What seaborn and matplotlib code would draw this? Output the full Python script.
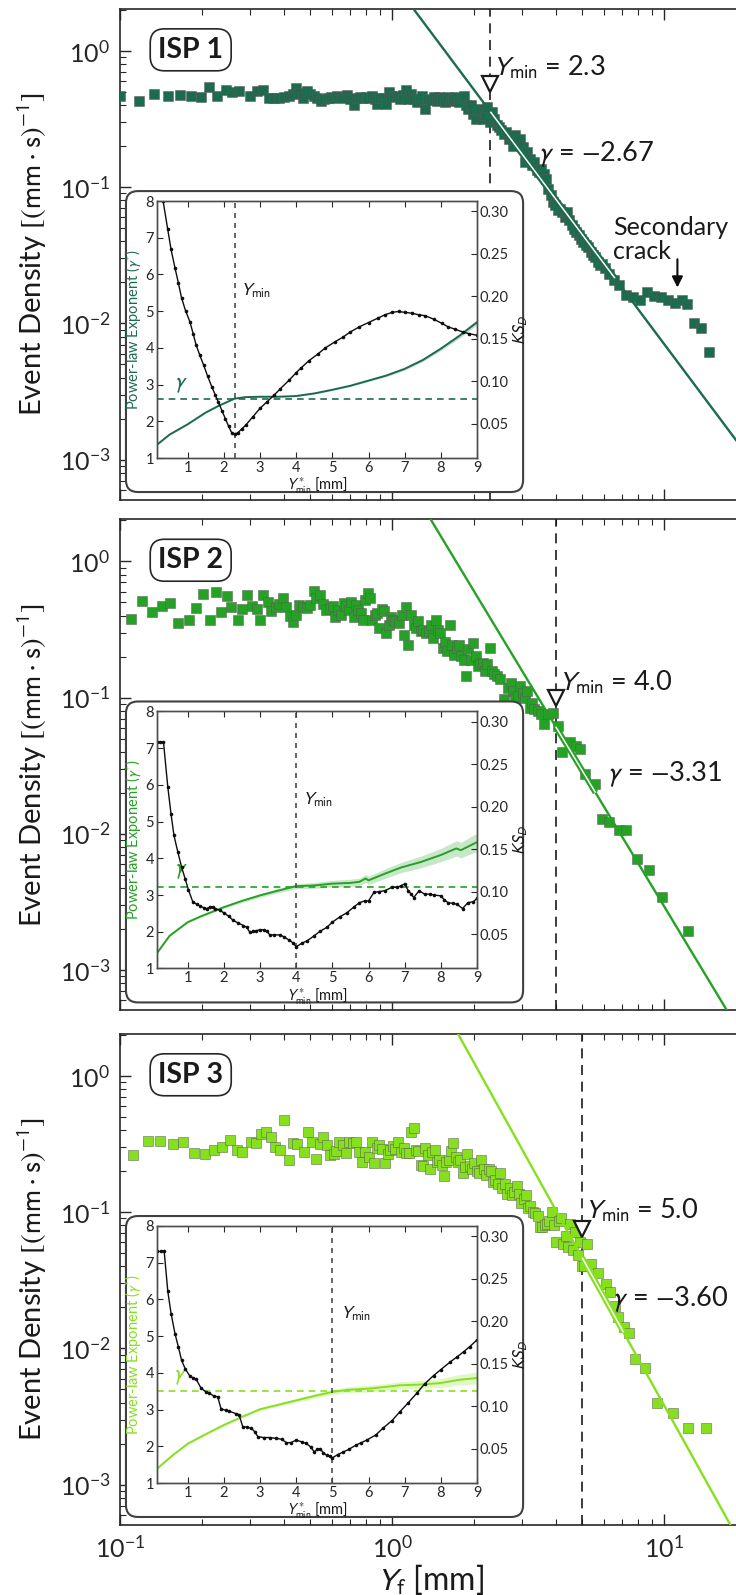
import numpy as np
import pandas as pd
import matplotlib
matplotlib.use("Agg")
import matplotlib.pyplot as plt
import seaborn as sns
from matplotlib.patches import FancyBboxPatch
from matplotlib.ticker import FixedLocator, FormatStrFormatter, NullFormatter

# ---------------- data ----------------
p1_x = [0.100, 0.117, 0.133, 0.150, 0.166, 0.182, 0.198, 0.212, 0.228, 0.245, 0.259, 0.275, 0.301, 0.319,
        0.336, 0.353, 0.367, 0.385, 0.401, 0.419, 0.431, 0.444, 0.457, 0.472, 0.485, 0.499, 0.515, 0.529,
        0.547, 0.562, 0.58, 0.596, 0.613, 0.63, 0.648, 0.667, 0.685, 0.702, 0.722, 0.742, 0.760, 0.782,
        0.8, 0.819, 0.843, 0.863, 0.884, 0.905, 0.927, 0.949, 0.972, 0.995, 1.02, 1.044, 1.069, 1.095,
        1.122, 1.148, 1.177, 1.205, 1.234, 1.264, 1.294, 1.326, 1.357, 1.39, 1.424, 1.458, 1.493, 1.529,
        1.566, 1.604, 1.643, 1.682, 1.723, 1.765, 1.807, 1.836, 1.873, 1.91, 1.948, 1.988, 2.028, 2.069,
        2.11, 2.152, 2.196, 2.24, 2.285, 2.331, 2.378, 2.426, 2.475, 2.524, 2.576, 2.629, 2.681, 2.733,
        2.788, 2.844, 2.901, 2.96, 3.019, 3.08, 3.142, 3.205, 3.27, 3.335, 3.40, 3.467, 3.537, 3.608,
        3.681, 3.755, 3.83, 3.907, 3.985, 4.064, 4.146, 4.23, 4.315, 4.401, 4.49, 4.58, 4.673, 4.766,
        4.862, 4.96, 5.058, 5.16, 5.263, 5.37, 5.477, 5.587, 5.70, 5.814, 5.93, 6.049, 6.295, 6.55,
        6.815, 7.233, 7.677, 8.148, 8.65, 9.18, 9.74, 10.34, 10.98, 11.65, 12.13, 12.88, 13.67, 14.62]
p1_y = [0.471, 0.432, 0.484, 0.471, 0.476, 0.471, 0.463, 0.542, 0.471, 0.521, 0.498, 0.507, 0.471, 0.512,
        0.521, 0.45, 0.45, 0.453, 0.458, 0.471, 0.484, 0.532, 0.49, 0.453, 0.512, 0.484, 0.466, 0.45,
        0.432, 0.445, 0.453, 0.463, 0.45, 0.471, 0.458, 0.453, 0.476, 0.445, 0.402, 0.45, 0.463, 0.45,
        0.458, 0.45, 0.466, 0.445, 0.409, 0.45, 0.45, 0.409, 0.498, 0.466, 0.458, 0.471, 0.445, 0.476,
        0.521, 0.445, 0.484, 0.445, 0.421, 0.445, 0.466, 0.372, 0.445, 0.44, 0.458, 0.432, 0.458, 0.445,
        0.425, 0.458, 0.432, 0.445, 0.458, 0.425, 0.453, 0.471, 0.398, 0.376, 0.398, 0.345, 0.318, 0.366,
        0.376, 0.318, 0.336, 0.387, 0.30, 0.356, 0.318, 0.284, 0.276, 0.261, 0.247, 0.254, 0.227, 0.233,
        0.202, 0.24, 0.22, 0.227, 0.197, 0.153, 0.181, 0.162, 0.1445, 0.153, 0.1328, 0.129, 0.1367, 0.1256,
        0.1154, 0.0975, 0.0871, 0.0778, 0.0736, 0.0676, 0.0695, 0.0658, 0.0604, 0.0658, 0.0571, 0.0525, 0.0497, 0.047,
        0.0444, 0.042, 0.0397, 0.0375, 0.0365, 0.0335, 0.0317, 0.0308, 0.0283, 0.0267, 0.0275, 0.0253, 0.0232, 0.0208,
        0.0191, 0.0161, 0.0157, 0.0148, 0.0171, 0.0159, 0.0157, 0.0148, 0.014, 0.0148, 0.0138, 0.0100, 0.0092, 0.0062]

p2_x = [0.110, 0.121, 0.131, 0.143, 0.153, 0.164, 0.180, 0.191, 0.202, 0.215, 0.225, 0.235, 0.247, 0.257,
        0.271, 0.281, 0.293, 0.307, 0.319, 0.326, 0.336, 0.349, 0.360, 0.375, 0.385, 0.397, 0.409, 0.422,
        0.431, 0.445, 0.457, 0.472, 0.485, 0.499, 0.515, 0.525, 0.542, 0.557, 0.573, 0.591, 0.608, 0.618,
        0.633, 0.648, 0.667, 0.680, 0.693, 0.707, 0.722, 0.736, 0.751, 0.766, 0.782, 0.797, 0.816, 0.829,
        0.847, 0.864, 0.881, 0.898, 0.916, 0.935, 0.953, 0.972, 0.991, 1.011, 1.03, 1.06, 1.087, 1.11,
        1.13, 1.148, 1.177, 1.20, 1.224, 1.249, 1.274, 1.30, 1.336, 1.363, 1.39, 1.419, 1.447, 1.476,
        1.506, 1.536, 1.566, 1.598, 1.63, 1.663, 1.696, 1.73, 1.765, 1.80, 1.836, 1.873, 1.91, 1.948,
        1.988, 2.028, 2.069, 2.11, 2.152, 2.196, 2.24, 2.285, 2.331, 2.378, 2.426, 2.505, 2.576, 2.659,
        2.733, 2.788, 2.844, 2.901, 2.96, 3.019, 3.08, 3.142, 3.205, 3.27, 3.335, 3.44, 3.54, 3.61,
        3.76, 3.91, 4.07, 4.23, 4.53, 4.73, 4.92, 5.12, 5.59, 5.93, 6.30, 6.82, 7.24, 7.93,
        8.77, 9.87, 12.2]
p2_y = [0.38, 0.515, 0.424, 0.474, 0.496, 0.35, 0.374, 0.456, 0.58, 0.37, 0.593, 0.424, 0.555, 0.46,
        0.37, 0.448, 0.564, 0.469, 0.448, 0.37, 0.57, 0.501, 0.431, 0.46, 0.488, 0.539, 0.463, 0.40,
        0.36, 0.407, 0.482, 0.463, 0.456, 0.476, 0.61, 0.539, 0.57, 0.49, 0.443, 0.448, 0.469, 0.392,
        0.443, 0.403, 0.496, 0.469, 0.443, 0.501, 0.392, 0.482, 0.438, 0.419, 0.37, 0.524, 0.586, 0.539,
        0.374, 0.407, 0.419, 0.325, 0.448, 0.431, 0.299, 0.344, 0.392, 0.374, 0.364, 0.354, 0.407, 0.29,
        0.463, 0.245, 0.407, 0.344, 0.325, 0.364, 0.308, 0.316, 0.296, 0.308, 0.344, 0.275, 0.374, 0.316,
        0.296, 0.232, 0.255, 0.22, 0.344, 0.245, 0.207, 0.232, 0.245, 0.202, 0.189, 0.144, 0.226, 0.189,
        0.25, 0.202, 0.17, 0.175, 0.178, 0.157, 0.175, 0.232, 0.157, 0.148, 0.144, 0.136, 0.097, 0.118,
        0.129, 0.112, 0.10, 0.103, 0.122, 0.108, 0.10, 0.112, 0.0845, 0.092, 0.082, 0.080, 0.0755, 0.0638,
        0.0755, 0.0777, 0.062, 0.0396, 0.0469, 0.0443, 0.0419, 0.0275, 0.0232, 0.0129, 0.0122, 0.0106, 0.0106, 0.00656,
        0.0054, 0.00344, 0.00194]

p3_x = [0.112, 0.127, 0.140, 0.156, 0.171, 0.187, 0.206, 0.221, 0.237, 0.254, 0.269, 0.282, 0.302, 0.315,
        0.331, 0.344, 0.358, 0.373, 0.388, 0.400, 0.417, 0.434, 0.449, 0.473, 0.492, 0.508, 0.524, 0.543,
        0.558, 0.576, 0.592, 0.612, 0.624, 0.641, 0.662, 0.676, 0.697, 0.717, 0.737, 0.755, 0.776, 0.798,
        0.824, 0.843, 0.857, 0.878, 0.899, 0.921, 0.946, 0.966, 0.985, 1.005, 1.024, 1.052, 1.079, 1.104,
        1.13, 1.158, 1.177, 1.2, 1.224, 1.248, 1.274, 1.30, 1.325, 1.352, 1.378, 1.405, 1.435, 1.462,
        1.493, 1.521, 1.552, 1.585, 1.614, 1.648, 1.679, 1.714, 1.75, 1.782, 1.82, 1.858, 1.892, 1.932,
        1.968, 2.01, 2.05, 2.09, 2.133, 2.173, 2.218, 2.265, 2.307, 2.355, 2.399, 2.449, 2.5, 2.547,
        2.6, 2.649, 2.704, 2.761, 2.812, 2.871, 2.924, 2.985, 3.048, 3.105, 3.17, 3.228, 3.296, 3.365,
        3.428, 3.5, 3.565, 3.639, 3.715, 3.784, 3.864, 3.945, 4.018, 4.102, 4.178, 4.266, 4.355, 4.436,
        4.529, 4.613, 4.71, 4.808, 4.898, 5.0, 5.093, 5.2, 5.408, 5.741, 6.095, 6.339, 6.592, 6.776,
        7.145, 7.43, 7.816, 8.531, 9.42, 10.81, 12.28, 14.29]
p3_y = [0.261, 0.334, 0.334, 0.316, 0.33, 0.273, 0.268, 0.287, 0.30, 0.336, 0.287, 0.277, 0.33, 0.324,
        0.374, 0.386, 0.355, 0.30, 0.285, 0.471, 0.241, 0.324, 0.316, 0.278, 0.386, 0.33, 0.245, 0.314,
        0.355, 0.31, 0.261, 0.265, 0.282, 0.33, 0.31, 0.273, 0.33, 0.324, 0.33, 0.277, 0.233, 0.277,
        0.253, 0.33, 0.231, 0.296, 0.31, 0.291, 0.231, 0.268, 0.287, 0.304, 0.291, 0.33, 0.277, 0.296,
        0.273, 0.273, 0.386, 0.416, 0.285, 0.282, 0.222, 0.219, 0.294, 0.261, 0.209, 0.277, 0.285, 0.233,
        0.241, 0.222, 0.184, 0.233, 0.241, 0.282, 0.324, 0.252, 0.233, 0.241, 0.194, 0.213, 0.265, 0.219,
        0.206, 0.231, 0.20, 0.194, 0.241, 0.206, 0.1875, 0.206, 0.20, 0.1655, 0.171, 0.160, 0.194, 0.1507,
        0.160, 0.137, 0.1507, 0.1328, 0.1415, 0.155, 0.137, 0.117, 0.1247, 0.1328, 0.1067, 0.110, 0.1002, 0.0984,
        0.0942, 0.078, 0.078, 0.0805, 0.0815, 0.0857, 0.1002, 0.0805, 0.0607, 0.0857, 0.0912, 0.058, 0.0667, 0.0552,
        0.0815, 0.0525, 0.071, 0.0487, 0.0607, 0.0404, 0.0404, 0.058, 0.0417, 0.0356, 0.0299, 0.026, 0.0203, 0.017,
        0.01435, 0.01306, 0.00832, 0.0072, 0.00397, 0.00333, 0.00259, 0.00259]

# power-law fits (amplitude, exponent) and Y_min
fit_A = [3.31, 6.01, 15.22]
fit_gamma = [-2.67, -3.31, -3.60]
y_min = [2.3, 4.0, 5.0]
panel_labels = ["ISP 1", "ISP 2", "ISP 3"]

# inset: power-law exponent vs Y*_min
g1_x = [0.16, 0.5, 1.0, 1.5, 1.85, 2.3, 2.6, 3.0, 3.5, 4.0, 4.5, 5.0, 5.5, 6.0, 6.5, 7.0, 7.5, 8.0, 8.5, 9.0]
g1_y = [1.37, 1.64, 1.92, 2.24, 2.42, 2.62, 2.66, 2.67, 2.67, 2.69, 2.76, 2.86, 2.97, 3.11, 3.25, 3.43, 3.67, 3.98, 4.32, 4.70]
g1_e = [0.01, 0.01, 0.01, 0.01, 0.01, 0.01, 0.01, 0.01, 0.01, 0.015, 0.015, 0.02, 0.02, 0.025, 0.03, 0.035, 0.04, 0.05, 0.06, 0.07]
g2_x = [0.16, 0.5, 1.0, 1.34, 2.0, 2.5, 3.0, 3.5, 4.0, 4.5, 5.0, 5.5, 5.75, 5.92, 6.0, 6.45, 6.9, 7.45, 8.0, 8.43, 8.55, 9.0]
g2_y = [1.43, 1.89, 2.26, 2.41, 2.67, 2.84, 2.99, 3.12, 3.24, 3.26, 3.31, 3.33, 3.36, 3.45, 3.40, 3.58, 3.75, 3.90, 4.09, 4.27, 4.22, 4.44]
g2_e = [0.01, 0.01, 0.02, 0.02, 0.03, 0.04, 0.05, 0.06, 0.07, 0.08, 0.09, 0.10, 0.10, 0.11, 0.11, 0.13, 0.14, 0.16, 0.18, 0.21, 0.21, 0.25]
g3_x = [0.14, 0.58, 1.0, 1.5, 2.0, 2.5, 3.0, 3.5, 4.0, 4.5, 5.0, 5.45, 6.0, 6.5, 6.85, 7.4, 7.97, 8.5, 9.0]
g3_y = [1.38, 1.75, 2.07, 2.33, 2.58, 2.80, 3.01, 3.13, 3.25, 3.37, 3.48, 3.54, 3.57, 3.62, 3.66, 3.68, 3.72, 3.81, 3.86]
g3_e = [0.01, 0.01, 0.015, 0.02, 0.025, 0.03, 0.035, 0.04, 0.05, 0.06, 0.07, 0.08, 0.09, 0.09, 0.10, 0.11, 0.12, 0.14, 0.16]
gamma_ref = [2.6, 3.22, 3.51]

# inset: KS distance vs Y*_min
k1_x = [0.16, 0.25, 0.32, 0.444, 0.54, 0.65, 0.74, 0.83, 0.94, 1.06, 1.15, 1.23, 1.33, 1.44, 1.55, 1.67, 1.76, 1.85,
        1.95, 2.04, 2.13, 2.22, 2.3, 2.38, 2.5, 2.6, 2.8, 3.0, 3.2, 3.4, 3.56, 3.8, 4.0, 4.12, 4.35, 4.6, 4.8,
        5.06, 5.3, 5.5, 5.75, 6.0, 6.25, 6.45, 6.65, 6.83, 7.0, 7.2, 7.4, 7.57, 7.8, 8.03, 8.2, 8.4, 8.6, 8.77, 9.0]
k1_y = [0.40, 0.35, 0.312, 0.2796, 0.255, 0.233, 0.216, 0.198, 0.183, 0.170, 0.156, 0.143, 0.131, 0.119, 0.106,
        0.093, 0.084, 0.075, 0.065, 0.056, 0.047, 0.039, 0.038, 0.039, 0.044, 0.048, 0.058, 0.068, 0.076, 0.084,
        0.091, 0.101, 0.110, 0.115, 0.124, 0.132, 0.139, 0.146, 0.152, 0.158, 0.164, 0.169, 0.174, 0.178, 0.181,
        0.182, 0.181, 0.180, 0.178, 0.177, 0.173, 0.168, 0.164, 0.161, 0.158, 0.156, 0.154]
k2_x = [0.16, 0.24, 0.33, 0.45, 0.54, 0.62, 0.73, 0.83, 0.93, 1.02, 1.14, 1.25, 1.35, 1.44, 1.53, 1.62, 1.7, 1.76,
        1.88, 2.0, 2.13, 2.26, 2.4, 2.54, 2.63, 2.72, 2.8, 2.9, 3.0, 3.1, 3.2, 3.27, 3.4, 3.55, 3.65, 3.8, 3.9,
        4.0, 4.15, 4.3, 4.5, 4.65, 4.85, 5.0, 5.2, 5.4, 5.6, 5.75, 5.9, 6.0, 6.15, 6.3, 6.45, 6.65, 6.8, 6.9,
        7.0, 7.1, 7.18, 7.25, 7.4, 7.55, 7.7, 7.8, 8.0, 8.1, 8.2, 8.35, 8.45, 8.6, 8.75, 8.9, 9.0]
k2_y = [0.276, 0.276, 0.276, 0.223, 0.191, 0.166, 0.146, 0.129, 0.115, 0.102, 0.088, 0.085, 0.083, 0.081, 0.080,
        0.082, 0.082, 0.080, 0.078, 0.075, 0.071, 0.066, 0.063, 0.060, 0.058, 0.052, 0.053, 0.054, 0.055, 0.055,
        0.053, 0.049, 0.049, 0.049, 0.047, 0.043, 0.040, 0.035, 0.039, 0.042, 0.048, 0.053, 0.058, 0.064, 0.070,
        0.075, 0.082, 0.087, 0.089, 0.089, 0.099, 0.100, 0.101, 0.105, 0.105, 0.107, 0.109, 0.101, 0.097, 0.093,
        0.101, 0.097, 0.097, 0.096, 0.095, 0.090, 0.087, 0.086, 0.085, 0.080, 0.087, 0.088, 0.092]
k3_x = [0.14, 0.25, 0.35, 0.45, 0.54, 0.65, 0.74, 0.83, 0.93, 1.05, 1.15, 1.23, 1.37, 1.5, 1.6, 1.72, 1.83, 1.92,
        2.05, 2.15, 2.34, 2.42, 2.52, 2.65, 2.76, 2.85, 2.94, 3.1, 3.27, 3.45, 3.6, 3.73, 3.85, 4.0, 4.15, 4.28,
        4.4, 4.5, 4.58, 4.66, 4.75, 4.85, 4.93, 5.0, 5.15, 5.3, 5.45, 5.65, 5.8, 5.95, 6.2, 6.4, 6.65, 6.86,
        7.1, 7.33, 7.55, 7.8, 8.0, 8.26, 8.45, 8.63, 8.8, 9.0]
k3_y = [0.282, 0.282, 0.282, 0.235, 0.209, 0.185, 0.170, 0.154, 0.144, 0.136, 0.133, 0.132, 0.121, 0.117, 0.115,
        0.112, 0.111, 0.097, 0.095, 0.094, 0.091, 0.090, 0.076, 0.075, 0.074, 0.070, 0.064, 0.063, 0.063, 0.062,
        0.061, 0.057, 0.057, 0.060, 0.058, 0.056, 0.052, 0.046, 0.049, 0.050, 0.045, 0.042, 0.041, 0.039, 0.043,
        0.046, 0.049, 0.054, 0.057, 0.060, 0.066, 0.074, 0.083, 0.093, 0.104, 0.115, 0.126, 0.136, 0.143, 0.152,
        0.158, 0.164, 0.170, 0.178]

# ---------------- style ----------------
sns.set_style("ticks")
plt.rcParams.update({
    "font.family": ["Lato", "DejaVu Sans"],
    "mathtext.fontset": "stixsans",
    "axes.edgecolor": "0.15",
    "axes.linewidth": 1.2,
    "xtick.direction": "in",
    "ytick.direction": "in",
    "text.color": "0.1",
    "axes.labelcolor": "0.1",
    "xtick.color": "0.15",
    "ytick.color": "0.15",
})

colors = ["#1c6b4e", "#25a125", "#86e01e"]
panel_bottoms = [0.6865, 0.3665, 0.0439]
panel_h = 0.3078
hl_end = [6.6, 5.6, 7.1]
tri_y = [0.57, 0.10, 0.0756]
ymin_txt = [(2.34, 0.76), (4.06, 0.129), (5.08, 0.103)]
gam_txt = [(3.45, 0.174), (6.15, 0.0275), (6.45, 0.023)]
ins_gam_txt = [(0.62, 3.0), (0.62, 3.65), (0.6, 3.9)]
ins_ymin_txt = [(2.45, 5.55), (4.15, 5.6), (5.2, 5.6)]

g_x = [g1_x, g2_x, g3_x]; g_y = [g1_y, g2_y, g3_y]; g_e = [g1_e, g2_e, g3_e]
k_x = [k1_x, k2_x, k3_x]; k_y = [k1_y, k2_y, k3_y]
d_x = [p1_x, p2_x, p3_x]; d_y = [p1_y, p2_y, p3_y]

fig = plt.figure(figsize=(7.36, 15.95), dpi=100)

for i in range(3):
    c = colors[i]
    ax = fig.add_axes([0.163, panel_bottoms[i], 0.924, panel_h])
    ax.set_xscale("log"); ax.set_yscale("log")
    df = pd.DataFrame({"Yf": d_x[i], "rate": d_y[i]})
    sns.scatterplot(data=df, x="Yf", y="rate", ax=ax, marker="s", s=42, color=c,
                    edgecolor=(0.35, 0.35, 0.35, 0.7), linewidth=0.5, zorder=3, legend=False)
    ax.set_xlim(0.1, 10 ** 1.5)
    ax.set_ylim(5.05e-4, 2.03)
    xx = np.logspace(-1, 1.5, 300)
    ax.plot(xx, fit_A[i] * xx ** fit_gamma[i], color=c, lw=1.7, zorder=4)
    seg = np.logspace(np.log10(y_min[i]), np.log10(hl_end[i]), 100)
    ax.plot(seg, fit_A[i] * seg ** fit_gamma[i], color=c, lw=4.2, zorder=4, solid_capstyle="butt")
    ax.plot(seg, fit_A[i] * seg ** fit_gamma[i], color="white", lw=1.1, zorder=5, solid_capstyle="butt")
    ax.axvline(y_min[i], color="0.1", ls=(0, (6, 4)), lw=1.2, zorder=2)
    ax.plot([y_min[i]], [tri_y[i]], marker="v", ms=11, mfc="white", mec="0.1", mew=1.6, zorder=6)
    ax.text(*ymin_txt[i], r"$Y_{\mathrm{min}}$ = %.1f" % y_min[i], fontsize=19.5, ha="left", va="center", zorder=6)
    ax.text(*gam_txt[i], r"$\gamma$ = $-$%.2f" % (-fit_gamma[i]), fontsize=19.5, ha="left", va="center", zorder=6)
    ax.text(0.104, 0.917, panel_labels[i], transform=ax.transAxes, fontsize=20.5, fontweight="bold",
            ha="center", va="center", color="0.1",
            bbox=dict(boxstyle="round,pad=0.28,rounding_size=0.5", fc="white", ec="0.15", lw=1.2), zorder=8)

    ax.tick_params(which="both", direction="in", top=True, right=True)
    ax.tick_params(which="major", length=8, width=1.0, labelsize=18, pad=7)
    ax.tick_params(which="minor", length=4, width=0.8)
    ax.set_ylabel(r"Event Density $[(\mathrm{mm}\cdot\mathrm{s})^{-1}]$", fontsize=21)
    ax.yaxis.set_label_coords(-0.105, 0.5)
    ax.spines["right"].set_visible(False)
    if i < 2:
        ax.set_xlabel("")
        ax.xaxis.set_major_formatter(NullFormatter())
    else:
        ax.set_xlabel(r"$Y_{\mathrm{f}}$ [mm]", fontsize=23)
        ax.xaxis.set_label_coords(0.456, -0.075)
    ax.xaxis.set_minor_formatter(NullFormatter())

    if i == 0:
        ax.text(6.49, 0.041, "Secondary\ncrack", fontsize=18, ha="left", va="center", linespacing=1.05, zorder=6)
        ax.annotate("", xy=(11.2, 0.0175), xytext=(11.2, 0.031),
                    arrowprops=dict(arrowstyle="-|>", color="0.05", lw=1.5, mutation_scale=16), zorder=6)

    # inset frame
    box = FancyBboxPatch((0.0088, 0.0163), 0.584, 0.613, boxstyle="round,pad=0,rounding_size=0.0176",
                         mutation_aspect=1.385, transform=ax.transAxes, facecolor="white",
                         edgecolor="0.25", lw=1.5, zorder=7, clip_on=False)
    ax.add_patch(box)

    ins = ax.inset_axes([0.0544, 0.0855, 0.4706, 0.5235])
    ins.set_zorder(10)
    gx = np.array(g_x[i]); gy = np.array(g_y[i]); ge = np.array(g_e[i])
    ins.fill_between(gx, gy - ge, gy + ge, color=c, alpha=0.25, lw=0)
    sns.lineplot(x=gx, y=gy, ax=ins, color=c, lw=1.4, estimator=None, sort=False)
    ins.axhline(gamma_ref[i], color=c, ls=(0, (4, 3)), lw=1.2)
    ins.axvline(y_min[i], color="0.3", ls=(0, (3, 3)), lw=1.2)
    ins.text(*ins_gam_txt[i], r"$\gamma$", color=c, fontsize=16, ha="left", va="center")
    ins.text(*ins_ymin_txt[i], r"$Y_{\mathrm{min}}$", color="0.1", fontsize=13, ha="left", va="center")
    ins.set_xlim(0.15, 9); ins.set_ylim(1, 8)
    ins.xaxis.set_major_locator(FixedLocator(list(range(1, 10))))
    ins.yaxis.set_major_locator(FixedLocator(list(range(1, 9))))
    ins.tick_params(which="both", direction="in", top=True, right=False, labelsize=10.5, length=4, pad=2)
    ins.set_xlabel(r"$Y^{*}_{\mathrm{min}}$ [mm]", fontsize=10.5, labelpad=1)
    ins.set_ylabel(r"Power-law Exponent ($\gamma^{*}$)", color=c, fontsize=10.5, labelpad=2)
    for s in ins.spines.values():
        s.set_color("0.3"); s.set_linewidth(1.0)

    tw = ins.twinx()
    sns.lineplot(x=k_x[i], y=k_y[i], ax=tw, color="0.05", lw=1.0, marker="o", markersize=2.6,
                 markeredgewidth=0, estimator=None, sort=False)
    tw.set_ylim(0.0095, 0.312)
    tw.yaxis.set_major_locator(FixedLocator([0.05, 0.10, 0.15, 0.20, 0.25, 0.30]))
    tw.yaxis.set_major_formatter(FormatStrFormatter("%.2f"))
    tw.tick_params(which="both", direction="in", labelsize=10.5, length=4, pad=2)
    tw.set_ylabel(r"$KS_D$", fontsize=12, labelpad=2)
    for s in tw.spines.values():
        s.set_color("0.3"); s.set_linewidth(1.0)

fig.savefig("out.png", dpi=100)
